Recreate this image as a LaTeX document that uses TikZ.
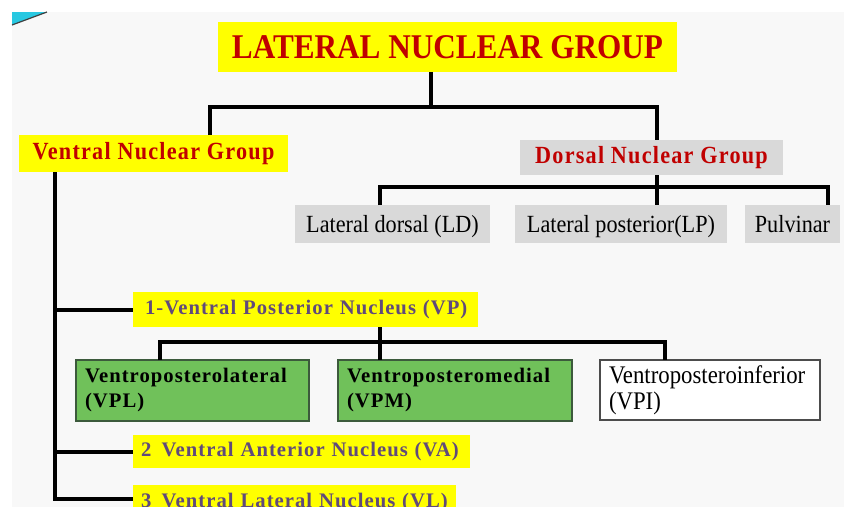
\documentclass[tikz,border=0pt]{standalone}
\usepackage{fontspec}
\setmainfont{Liberation Serif}
\definecolor{dred}{RGB}{192,0,0}
\definecolor{dpurple}{RGB}{96,74,123}
\definecolor{yel}{RGB}{255,255,0}
\definecolor{grayb}{RGB}{217,217,217}
\definecolor{greenb}{RGB}{112,193,90}
\definecolor{greenedge}{RGB}{60,90,60}
\definecolor{bgc}{RGB}{248,248,248}
\definecolor{cyanc}{RGB}{40,200,225}
\begin{document}
\begin{tikzpicture}[x=0.75pt,y=-0.75pt,
  conn/.style={line width=3pt},
  subconn/.style={line width=2.5pt},
  box/.style={anchor=north west, inner ysep=0pt, outer sep=0pt},
  ybox/.style={box, fill=yel},
  gbox/.style={box, fill=grayb},
  hfont/.style={font=\fontsize{18.5}{20}\selectfont\bfseries\addfontfeatures{FakeStretch=0.9,LetterSpace=5}, text=dred},
  dfont/.style={font=\fontsize{18.5}{20}\selectfont\addfontfeatures{FakeStretch=0.9}, text=black, text height=15pt, text depth=2pt},
  pfont/.style={font=\fontsize{15.5}{18}\selectfont\bfseries\addfontfeatures{LetterSpace=5}, text=dpurple},
  vfont/.style={font=\fontsize{15.5}{18.75}\selectfont\bfseries\addfontfeatures{LetterSpace=5}, text=black},
]
\useasboundingbox (0,0) rectangle (844,507);
\clip (0,0) rectangle (844,507);
\fill[bgc] (12,12) rectangle (844,507);
\fill[cyanc] (12,12) -- (47,12) -- (12,25) -- cycle;
\draw[black!75, line width=0.9pt] (12,25) -- (47,12);

% title
\node[ybox, minimum width=344.25pt, minimum height=37.5pt, inner xsep=0pt,
  font=\fontsize{26}{28}\selectfont\bfseries\addfontfeatures{FakeStretch=0.9}, text=dred] (title) at (218,22) {LATERAL NUCLEAR GROUP};

% second level
\node[ybox, hfont, minimum width=201.75pt, minimum height=27.75pt, inner xsep=0pt] (vng) at (19,135) {Ventral Nuclear Group};
\node[gbox, hfont, minimum width=197.25pt, minimum height=26.25pt, inner xsep=0pt] (dng) at (520,140) {Dorsal Nuclear Group};

% dorsal children
\node[gbox, dfont, minimum width=146.25pt, minimum height=28.5pt, inner xsep=0pt] (ld) at (295,205) {Lateral dorsal (LD)};
\node[gbox, dfont, minimum width=159pt, minimum height=28.5pt, inner xsep=0pt] (lp) at (515,205) {Lateral posterior(LP)};
\node[gbox, dfont, minimum width=71.25pt, minimum height=28.5pt, inner xsep=0pt] (pul) at (745,205) {Pulvinar};

% ventral children
\node[ybox, pfont, text width=240.75pt, inner xsep=9pt, align=left, minimum height=26.25pt] (vp) at (133,292) {1-Ventral Posterior Nucleus (VP)};
\node[ybox, pfont, text width=240.75pt, inner xsep=6pt, align=left, minimum height=24.75pt] (va) at (133,435) {2\enspace Ventral Anterior Nucleus (VA)};
\node[ybox, pfont, text width=230.25pt, inner xsep=6pt, align=left, minimum height=26.25pt] (vl) at (133,485) {3\enspace Ventral Lateral Nucleus (VL)};

% VP children
\node[box, vfont, fill=greenb, draw=greenedge, line width=0.8pt, text width=161.25pt, inner xsep=6.75pt, align=left, minimum height=45.75pt] (vpl) at (76,360) {Ventroposterolateral\\(VPL)};
\node[box, vfont, fill=greenb, draw=greenedge, line width=0.8pt, text width=162pt, inner xsep=6.75pt, align=left, minimum height=45.75pt] (vpm) at (338,360) {Ventroposteromedial\\(VPM)};
\node[box, font=\fontsize{19}{19.5}\selectfont\addfontfeatures{FakeStretch=0.9}, fill=white, draw=black!70, line width=0.8pt, text width=151.5pt, inner xsep=6.75pt, align=left, minimum height=45pt] (vpi) at (600,360) {Ventroposteroinferior\\(VPI)};

% connectors: title
\coordinate (t0) at (431,107);
\coordinate (t1) at (210,107);
\coordinate (t2) at (657,107);
\draw[conn] (t0 |- title.south) -- (t0);
\draw[conn] (t1 |- vng.north) -- (t1) -- (t2) -- (t2 |- dng.north);

% dorsal
\coordinate (d0) at (657,187);
\coordinate (d1) at (380,187);
\coordinate (d2) at (828,187);
\draw[conn] (d0 |- dng.south) -- (d0 |- lp.north);
\draw[conn] (d1 |- ld.north) -- (d1) -- (d2) -- (d2 |- pul.north);

% ventral spine
\coordinate (v0) at (55,172);
\coordinate (v3) at (55,499);
\draw[conn] (v0 |- vng.south) -- (v3) -- (v3 -| vl.west);
\draw[conn] (v0 |- vp.west) -- (vp.west);
\draw[conn] (v0 |- va.west) -- (va.west);

% VP bus
\coordinate (p0) at (380,342);
\coordinate (p1) at (160,342);
\coordinate (p2) at (665,342);
\draw[conn] (p0 |- vp.south) -- (p0 |- vpm.north);
\draw[subconn] (p1 |- vpl.north) -- (p1) -- (p2) -- (p2 |- vpi.north);
\end{tikzpicture}
\end{document}
